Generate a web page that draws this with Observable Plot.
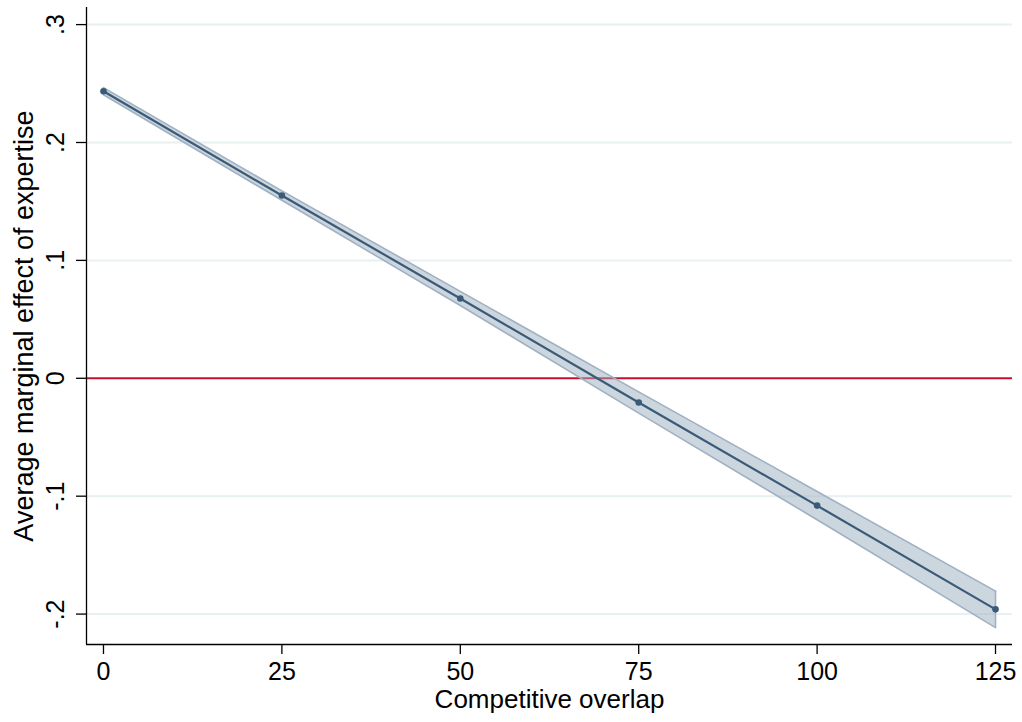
<!DOCTYPE html>
<html>
<head>
<meta charset="utf-8">
<script src="https://cdn.jsdelivr.net/npm/d3@7"></script>
<script src="https://cdn.jsdelivr.net/npm/@observablehq/plot@0.6"></script>
<style>
  html, body { margin: 0; padding: 0; background: #fff; }
  #chart svg { display: block; }
</style>
</head>
<body>
<div id="chart"></div>
<script>
const overlap = [0, 25, 50, 75, 100, 125];
const effect  = [0.2435, 0.155, 0.0677, -0.0205, -0.108, -0.196];
const lower   = [0.2405, 0.151, 0.0617, -0.0295, -0.120, -0.2115];
const upper   = [0.2465, 0.159, 0.0737, -0.0115, -0.096, -0.1805];
const xTicks  = [0, 25, 50, 75, 100, 125];
const yTicks  = [0.3, 0.2, 0.1, 0, -0.1, -0.2];
const gridTicks = [0.3, 0.2, 0.1, -0.1, -0.2];
const xLabel = "Competitive overlap";
const yLabel = "Average marginal effect of expertise";

const rows = overlap.map((x, i) => ({x, y: effect[i], lo: lower[i], hi: upper[i]}));
const xDom = [-2.38, 127.38];
const yDom = [-0.2258, 0.3145];
const fmt = d => d === 0 ? "0" : (d < 0 ? "-" : "") + Math.abs(d).toFixed(1).replace(/^0/, "");
const FONT = "'Liberation Sans', Arial, Helvetica, sans-serif";

const chart = Plot.plot({
  width: 1022,
  height: 722,
  marginLeft: 86,
  marginRight: 10,
  marginTop: 7,
  marginBottom: 78,
  x: {domain: xDom},
  y: {domain: yDom},
  style: {fontFamily: FONT, fontSize: "25px", color: "#000", background: "#fff"},
  marks: [
    Plot.ruleY(gridTicks, {stroke: "#e8f0f2", strokeWidth: 2}),
    Plot.ruleY([0], {stroke: "#c8102e", strokeWidth: 2}),
    Plot.areaY(rows, {x: "x", y1: "lo", y2: "hi", fill: "#9aadc0", fillOpacity: 0.5}),
    Plot.lineY(rows, {x: "x", y: "lo", stroke: "#a0b1c2", strokeWidth: 1.6}),
    Plot.lineY(rows, {x: "x", y: "hi", stroke: "#a0b1c2", strokeWidth: 1.6}),
    Plot.ruleX([125], {y1: lower[5], y2: upper[5], stroke: "#a0b1c2", strokeWidth: 1.6}),
    Plot.ruleX([0], {y1: lower[0], y2: upper[0], stroke: "#a0b1c2", strokeWidth: 1.6}),
    Plot.lineY(rows, {x: "x", y: "y", stroke: "#3a5a77", strokeWidth: 2.2}),
    Plot.dot(rows, {x: "x", y: "y", r: 3.3, fill: "#3a5a77", stroke: "none"}),
    Plot.ruleX([xDom[0]], {stroke: "#000", strokeWidth: 1.3}),
    Plot.ruleY([yDom[0]], {stroke: "#000", strokeWidth: 1.3}),
    Plot.axisY({ticks: yTicks, tickFormat: () => "", tickSize: 10, label: null, strokeWidth: 1.3}),
    Plot.axisX({ticks: xTicks, tickFormat: () => "", tickSize: 10, label: null, strokeWidth: 1.3}),
    Plot.text(yTicks, {y: d => d, text: fmt, frameAnchor: "left", dx: -23, rotate: -90, lineAnchor: "bottom", textAnchor: "middle", fontSize: 25, fill: "#000"}),
    Plot.text(xTicks, {x: d => d, text: d => String(d), frameAnchor: "bottom", dy: 18, lineAnchor: "top", textAnchor: "middle", fontSize: 25, fill: "#000"}),
    Plot.text([xLabel], {frameAnchor: "bottom", dy: 63, lineAnchor: "bottom", textAnchor: "middle", fontSize: 26, fill: "#000"}),
    Plot.text([yLabel], {frameAnchor: "left", dx: -54, rotate: -90, lineAnchor: "bottom", textAnchor: "middle", fontSize: 27, fill: "#000"})
  ]
});
document.getElementById("chart").appendChild(chart);
</script>
</body>
</html>
